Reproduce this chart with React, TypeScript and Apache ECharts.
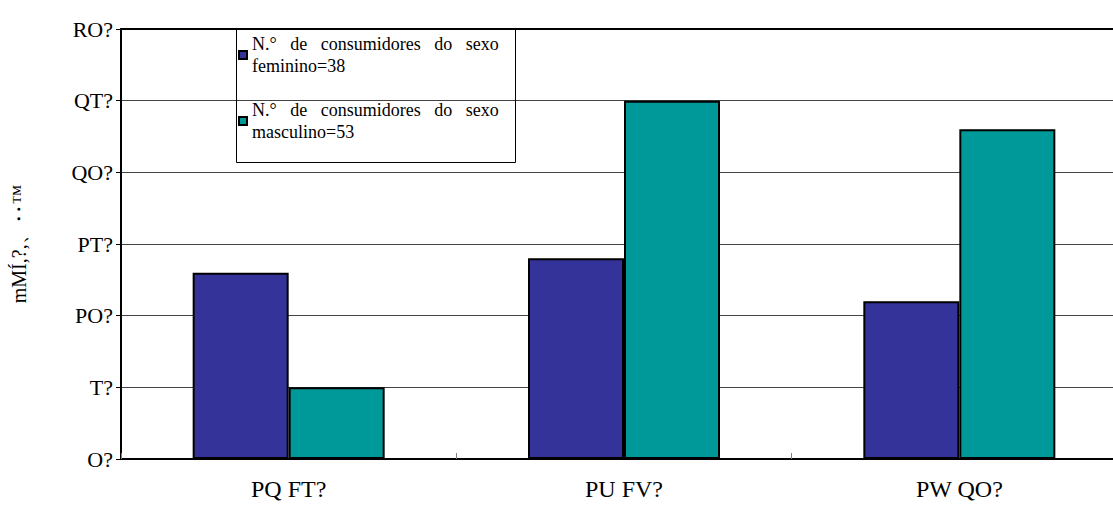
import React, { useEffect, useRef } from "react";
import * as echarts from "echarts";

const categories = ["PQ FT?", "PU FV?", "PW QO?"];
const femaleValues = [13, 14, 11];
const maleValues = [5, 25, 23];
const yTickLabels = ["O?", "T?", "PO?", "PT?", "QO?", "QT?", "RO?"];
const yAxisName = "mMÍ,?,、‥™";
const femaleName = "N.°   de   consumidores   do   sexo\nfeminino=38";
const maleName = "N.°   de   consumidores   do   sexo\nmasculino=53";

const serif = "Liberation Serif";

export default function App() {
  const ref = useRef<HTMLDivElement>(null);
  useEffect(() => {
    if (!ref.current) return;
    const chart = echarts.init(ref.current, null, { renderer: "svg" });
    chart.setOption({
      animation: false,
      backgroundColor: "#ffffff",
      textStyle: { fontFamily: serif },
      grid: { left: 121, top: 29, right: 0, bottom: 54, containLabel: false },
      legend: {
        orient: "vertical",
        left: 236,
        top: 22,
        padding: [0, 0, 0, 2],
        itemGap: 0,
        itemWidth: 8,
        itemHeight: 8,
        icon: "rect",
        selectedMode: false,
        textStyle: {
          fontFamily: serif,
          fontSize: 18,
          lineHeight: 22,
          color: "#000",
          padding: [22, 0, 0, 0],
        },
        data: [femaleName, maleName],
      },
      graphic: [
        {
          type: "rect",
          shape: { x: 236.5, y: 29.5, width: 279, height: 133 },
          style: { fill: "none", stroke: "#000", lineWidth: 1 },
          z: 10,
        },
      ],
      xAxis: [
        {
          type: "category",
          data: categories,
          axisLine: { show: true, lineStyle: { color: "#000", width: 2 } },
          axisTick: { show: true, inside: true, length: 6, lineStyle: { color: "#808080", width: 1 } },
          axisLabel: { color: "#000", fontFamily: serif, fontSize: 24, margin: 18 },
          splitLine: { show: false },
        },
        {
          type: "category",
          position: "top",
          data: categories,
          axisLine: { show: true, lineStyle: { color: "#000", width: 2 } },
          axisTick: { show: false },
          axisLabel: { show: false },
          splitLine: { show: false },
        },
      ],
      yAxis: {
        type: "value",
        min: 0,
        max: 30,
        interval: 5,
        name: yAxisName,
        nameLocation: "middle",
        nameGap: 92,
        nameTextStyle: { color: "#000", fontFamily: serif, fontSize: 20 },
        axisLine: { show: true, lineStyle: { color: "#000", width: 2 } },
        axisTick: { show: true, inside: false, length: 5, lineStyle: { color: "#000", width: 1 } },
        axisLabel: {
          color: "#000",
          fontFamily: serif,
          fontSize: 22,
          margin: 8,
          formatter: (v: number) => yTickLabels[Math.round(v / 5)] ?? "",
        },
        splitLine: { show: true, lineStyle: { color: "#444", width: 1 } },
      },
      series: [
        {
          name: femaleName,
          type: "bar",
          data: femaleValues,
          barWidth: 96,
          barGap: "0%",
          itemStyle: { color: "#333399", borderColor: "#000", borderWidth: 2 },
        },
        {
          name: maleName,
          type: "bar",
          data: maleValues,
          barWidth: 96,
          barGap: "0%",
          itemStyle: { color: "#009999", borderColor: "#000", borderWidth: 2 },
        },
      ],
    });
    return () => chart.dispose();
  }, []);
  return (
    <div
      style={{ position: "absolute", left: 0, top: 0, width: 1113, height: 513, overflow: "hidden" }}
    >
      <div ref={ref} style={{ width: 1127, height: 513 }} />
    </div>
  );
}
